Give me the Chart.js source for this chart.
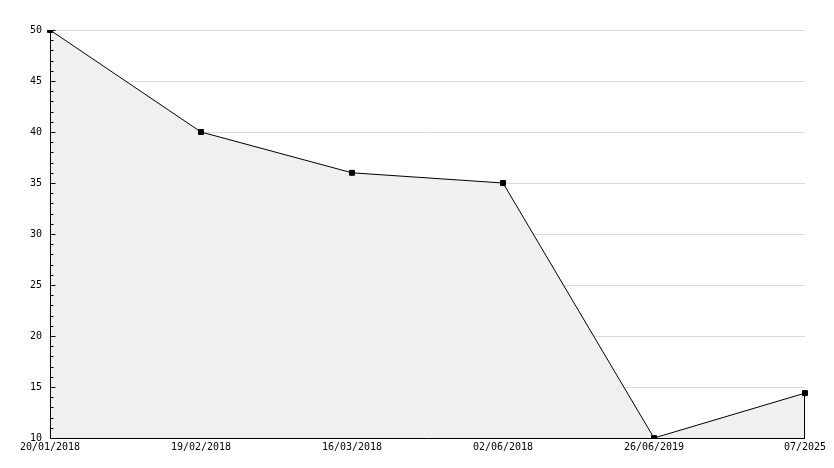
<!DOCTYPE html>
<html>
<head>
<meta charset="utf-8">
<script src="https://cdn.jsdelivr.net/npm/chart.js@4/dist/chart.umd.min.js"></script>
<style>
    html, body { margin: 0; padding: 0; background: #fff; }
    #wrap { width: 834px; height: 468px; }
</style>
</head>
<body>
<div id="wrap"><canvas id="chart" width="834" height="468"></canvas></div>
<script>
const dateLabels = ['20/01/2018', '19/02/2018', '16/03/2018', '02/06/2018', '26/06/2019', '07/2025'];
const values = [50, 40, 36, 35, 10, 14.4];
const yMin = 10;
const yMax = 50;
const yStep = 5;

// axis lines, small inside ticks on the y axis, closing edge of the filled area
const extrasPlugin = {
    id: 'extras',
    afterDatasetsDraw(chart) {
        const ctx = chart.ctx;
        const y = chart.scales.y;
        const area = chart.chartArea;
        const left = Math.round(area.left) + 0.5;
        const bottom = Math.round(area.bottom) + 0.5;
        ctx.save();
        ctx.strokeStyle = '#000';
        ctx.lineWidth = 1;
        ctx.beginPath();
        ctx.moveTo(left, Math.round(area.top));
        ctx.lineTo(left, bottom);
        ctx.lineTo(Math.round(area.right), bottom);
        for (let v = yMin; v <= yMax; v++) {
            const py = Math.round(y.getPixelForValue(v)) + 0.5;
            const len = v % yStep === 0 ? 5 : 3;
            ctx.moveTo(left, py);
            ctx.lineTo(left + len, py);
        }
        const meta = chart.getDatasetMeta(0);
        const last = meta.data[meta.data.length - 1];
        const lx = Math.round(last.x) - 0.5;
        ctx.moveTo(lx, last.y);
        ctx.lineTo(lx, bottom);
        ctx.stroke();
        ctx.restore();
    }
};

const monoFont = { family: 'DejaVu Sans Mono', size: 10 };

new Chart(document.getElementById('chart'), {
    type: 'line',
    data: {
        labels: dateLabels,
        datasets: [{
            data: values,
            borderColor: '#000',
            borderWidth: 1,
            backgroundColor: '#f0f0f0',
            fill: 'start',
            tension: 0,
            pointStyle: 'rect',
            pointRadius: 3.5,
            pointBackgroundColor: '#000',
            pointBorderColor: '#000',
            pointBorderWidth: 1
        }]
    },
    options: {
        responsive: false,
        animation: false,
        layout: { padding: { top: 30, right: 29, left: 0, bottom: 0 } },
        plugins: {
            legend: { display: false },
            tooltip: { enabled: false }
        },
        scales: {
            x: {
                offset: false,
                grid: { display: false, drawTicks: false },
                border: { display: false },
                ticks: {
                    color: '#000',
                    font: monoFont,
                    maxRotation: 0,
                    autoSkip: false,
                    padding: 3
                },
                afterFit(scale) { scale.height = 30; }
            },
            y: {
                min: yMin,
                max: yMax,
                grid: { color: '#dcdcdc', drawTicks: false },
                border: { display: false },
                ticks: {
                    stepSize: yStep,
                    color: '#000',
                    font: monoFont,
                    padding: 8
                },
                afterFit(scale) { scale.width = 50; }
            }
        }
    },
    plugins: [extrasPlugin]
});
</script>
</body>
</html>
